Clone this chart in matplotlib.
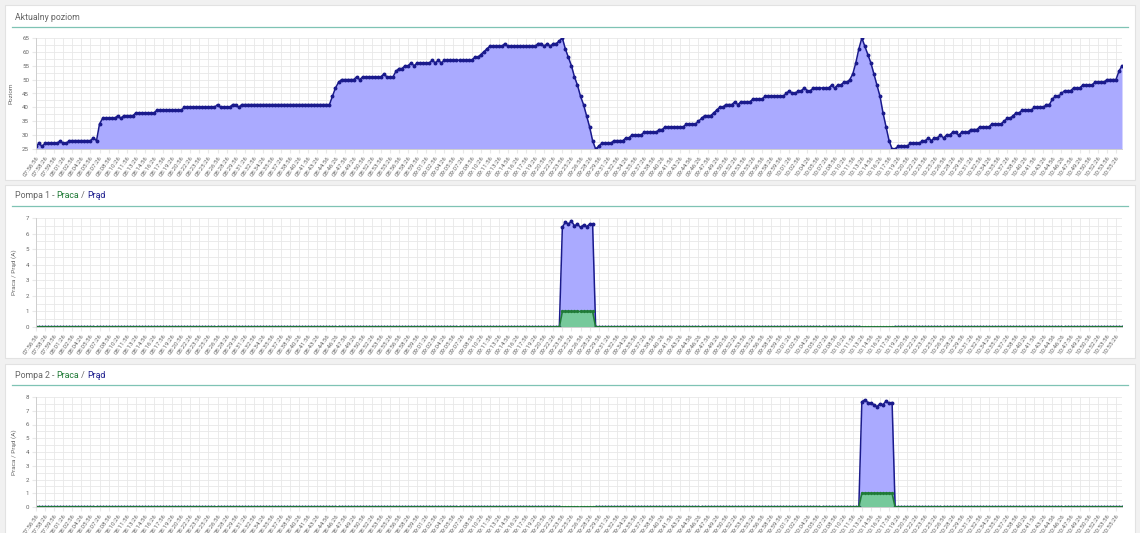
import numpy as np
import pandas as pd
import matplotlib
matplotlib.use("Agg")
from matplotlib import pyplot as plt
from matplotlib.patches import Rectangle
from matplotlib.lines import Line2D
from matplotlib.ticker import MultipleLocator

plt.rcParams['font.family'] = ['Roboto', 'DejaVu Sans']

# --- data (one reading every 30 s) ---
start_time = "07:56:56"
step_s = 30

level = [
    26, 27, 26, 27, 27, 27, 27, 27, 28, 27, 27, 28, 28, 28, 28, 28, 28, 28, 28, 29, 28,
    34, 36, 36, 36, 36, 36, 37, 36, 37, 37, 37, 37, 38, 38, 38, 38, 38, 38, 38,
    39, 39, 39, 39, 39, 39, 39, 39, 39, 40, 40, 40, 40, 40, 40, 40, 40, 40, 40, 40,
    41, 40, 40, 40, 40, 41, 41, 40,
    41, 41, 41, 41, 41, 41, 41, 41, 41, 41, 41, 41, 41, 41, 41, 41, 41, 41, 41, 41,
    41, 41, 41, 41, 41, 41, 41, 41, 41, 41,
    44, 47, 49, 50, 50, 50, 50, 50, 51, 50, 51, 51, 51, 51, 51, 51, 51, 52, 51, 51, 51,
    53, 54, 54, 55, 55, 56, 55, 56, 56, 56, 56, 56, 57, 56, 57, 56,
    57, 57, 57, 57, 57, 57, 57, 57, 57, 57, 58, 58, 59, 60, 61,
    62, 62, 62, 62, 62, 63, 62, 62, 62, 62, 62, 62, 62, 62, 62, 62,
    63, 63, 62, 63, 62, 63, 63, 64, 65,
    61, 58, 55, 51, 48, 44, 41, 37, 33, 28, 25,
    26, 27, 27, 27, 27, 28, 28, 28, 28, 29, 29, 30, 30, 30, 30, 31, 31, 31, 31, 31,
    32, 32, 33, 33, 33, 33, 33, 33, 33, 34, 34, 34, 34, 35, 36, 37, 37, 37, 38, 39,
    40, 40, 41, 41, 41, 42, 41, 42, 42, 42, 42, 43, 43, 43, 43,
    44, 44, 44, 44, 44, 44, 44, 45, 46, 45, 45, 46, 46, 47, 46, 46,
    47, 47, 47, 47, 47, 47, 48, 47, 48, 48, 49, 49, 50,
    52, 56, 61, 65,
    62, 59, 56, 52, 48, 44, 38, 33, 28, 25, 25,
    26, 26, 26, 26, 27, 27, 27, 27, 28, 28, 29, 28, 29, 29, 30, 29, 30, 30, 31, 31,
    30, 31, 31, 31, 32, 32, 32, 33, 33, 33, 33, 34, 34, 34, 34, 35, 36, 36, 37, 38, 38,
    39, 39, 39, 39, 40, 40, 40, 40, 41, 41, 43, 44, 44, 45, 46, 46, 46, 47, 47, 47,
    48, 48, 48, 48, 49, 49, 49, 49, 50, 50, 50, 50, 53, 55,
]

# pump runs: first index of the run and current readings (A)
pump1_start = 174
pump1_current = [6.4, 6.75, 6.6, 6.8, 6.5, 6.6, 6.4, 6.55, 6.45, 6.6, 6.6]
pump2_start = 273
pump2_current = [7.65, 7.8, 7.6, 7.55, 7.45, 7.3, 7.5, 7.45, 7.7, 7.55, 7.6]

n = len(level)
times = pd.date_range("2000-01-01 " + start_time, periods=n, freq=f"{step_s}s")
labels = [t.strftime("%H:%M:%S") for t in times]


def pump_series(start, current, other_start, other_len):
    prad = np.zeros(n)
    prad[start:start + len(current)] = current
    prad[other_start:other_start + other_len] = np.nan
    praca = np.zeros(n)
    praca[start:start + len(current)] = 1
    return prad, praca


prad1, praca1 = pump_series(pump1_start, pump1_current, pump2_start, len(pump2_current))
prad2, praca2 = pump_series(pump2_start, pump2_current, pump1_start, len(pump1_current))

# --- figure / layout in pixels ---
W, H = 1140, 533
fig = plt.figure(figsize=(W / 100, H / 100), dpi=100)
fig.patch.set_facecolor("#f1f1f1")


def fbox(x0, y0, x1, y1):
    return [x0 / W, 1 - y1 / H, (x1 - x0) / W, (y1 - y0) / H]


navy = "#1a1a8c"
blue_fill = "#aaaaff"
green = "#1f7a36"
green_fill = "#76c99b"
grey_txt = "#666666"
grid_c = "#e8e8e8"

cards = [(5, 5, 1135, 180), (5, 185, 1135, 358), (5, 364, 1135, 545)]
for x0, y0, x1, y1 in cards:
    fig.add_artist(Rectangle((x0 / W, 1 - y1 / H), (x1 - x0) / W, (y1 - y0) / H,
                             transform=fig.transFigure, facecolor="white",
                             edgecolor="#e2e2e2", lw=0.8, zorder=0))

renderer = fig.canvas.get_renderer()


def title(y, parts):
    x = 15
    for txt, col in parts:
        t = fig.text(x / W, 1 - y / H, txt, color=col, fontsize=6.3, va="center", ha="left")
        bb = t.get_window_extent(renderer=renderer)
        x += bb.width
    fig.add_artist(Line2D([12 / W, 1128 / W], [1 - (y + 10) / H] * 2,
                          transform=fig.transFigure, color="#7fc3b4", lw=0.9))


title(17, [("Aktualny poziom", grey_txt)])
title(196, [("Pompa 1 - ", grey_txt), ("Praca", green), (" / ", grey_txt), ("Prąd", navy)])
title(375, [("Pompa 2 - ", grey_txt), ("Praca", green), (" / ", grey_txt), ("Prąd", navy)])

x = np.arange(n)


def style_axis(ax, ymin, ymax, major, ylabel):
    ax.set_xlim(0, n - 1)
    ax.set_ylim(ymin, ymax)
    ax.set_xticks(x[::3])
    ax.set_xticklabels(labels[::3], rotation=55, ha="right", rotation_mode="anchor",
                       fontsize=4.4, color=grey_txt)
    ax.yaxis.set_major_locator(MultipleLocator(major))
    ax.yaxis.set_minor_locator(MultipleLocator(major / 2))
    ax.tick_params(axis="y", labelsize=4.4, labelcolor=grey_txt, length=3, color=grid_c, pad=2)
    ax.tick_params(axis="y", which="minor", length=0)
    ax.tick_params(axis="x", length=3, color=grid_c, pad=1.5)
    ax.grid(True, which="both", color=grid_c, lw=0.6)
    ax.set_axisbelow(True)
    for s in ["top", "right"]:
        ax.spines[s].set_visible(False)
    for s in ["left", "bottom"]:
        ax.spines[s].set_color("#cfcfcf")
        ax.spines[s].set_linewidth(0.7)
    ax.set_ylabel(ylabel, fontsize=4.6, color=grey_txt, labelpad=6)


# panel 1 - level
ax1 = fig.add_axes(fbox(36, 38, 1122, 149))
ax1.fill_between(x, level, 25, color=blue_fill, lw=0)
ax1.plot(x, level, color=navy, lw=1.1, marker="o", ms=1.8, mec=navy, mfc=navy)
style_axis(ax1, 25, 65, 5, "Poziom")

# pump panels
for box, prad, praca, ymax in [((36, 218, 1122, 327), prad1, praca1, 7),
                               ((36, 397, 1122, 507), prad2, praca2, 8)]:
    ax = fig.add_axes(fbox(*box))
    ax.fill_between(x, np.nan_to_num(prad), 0, color=blue_fill, lw=0)
    ax.plot(x, prad, color=navy, lw=1.1, marker="o", ms=1.8, mec=navy, mfc=navy)
    ax.fill_between(x, praca, 0, color=green_fill, lw=0)
    ax.plot(x, praca, color=green, lw=1.2, marker="o", ms=1.4, mec=green, mfc=green)
    style_axis(ax, 0, ymax, 1, "Praca / Prąd (A)")

fig.savefig("out.png", dpi=100, facecolor=fig.get_facecolor())
